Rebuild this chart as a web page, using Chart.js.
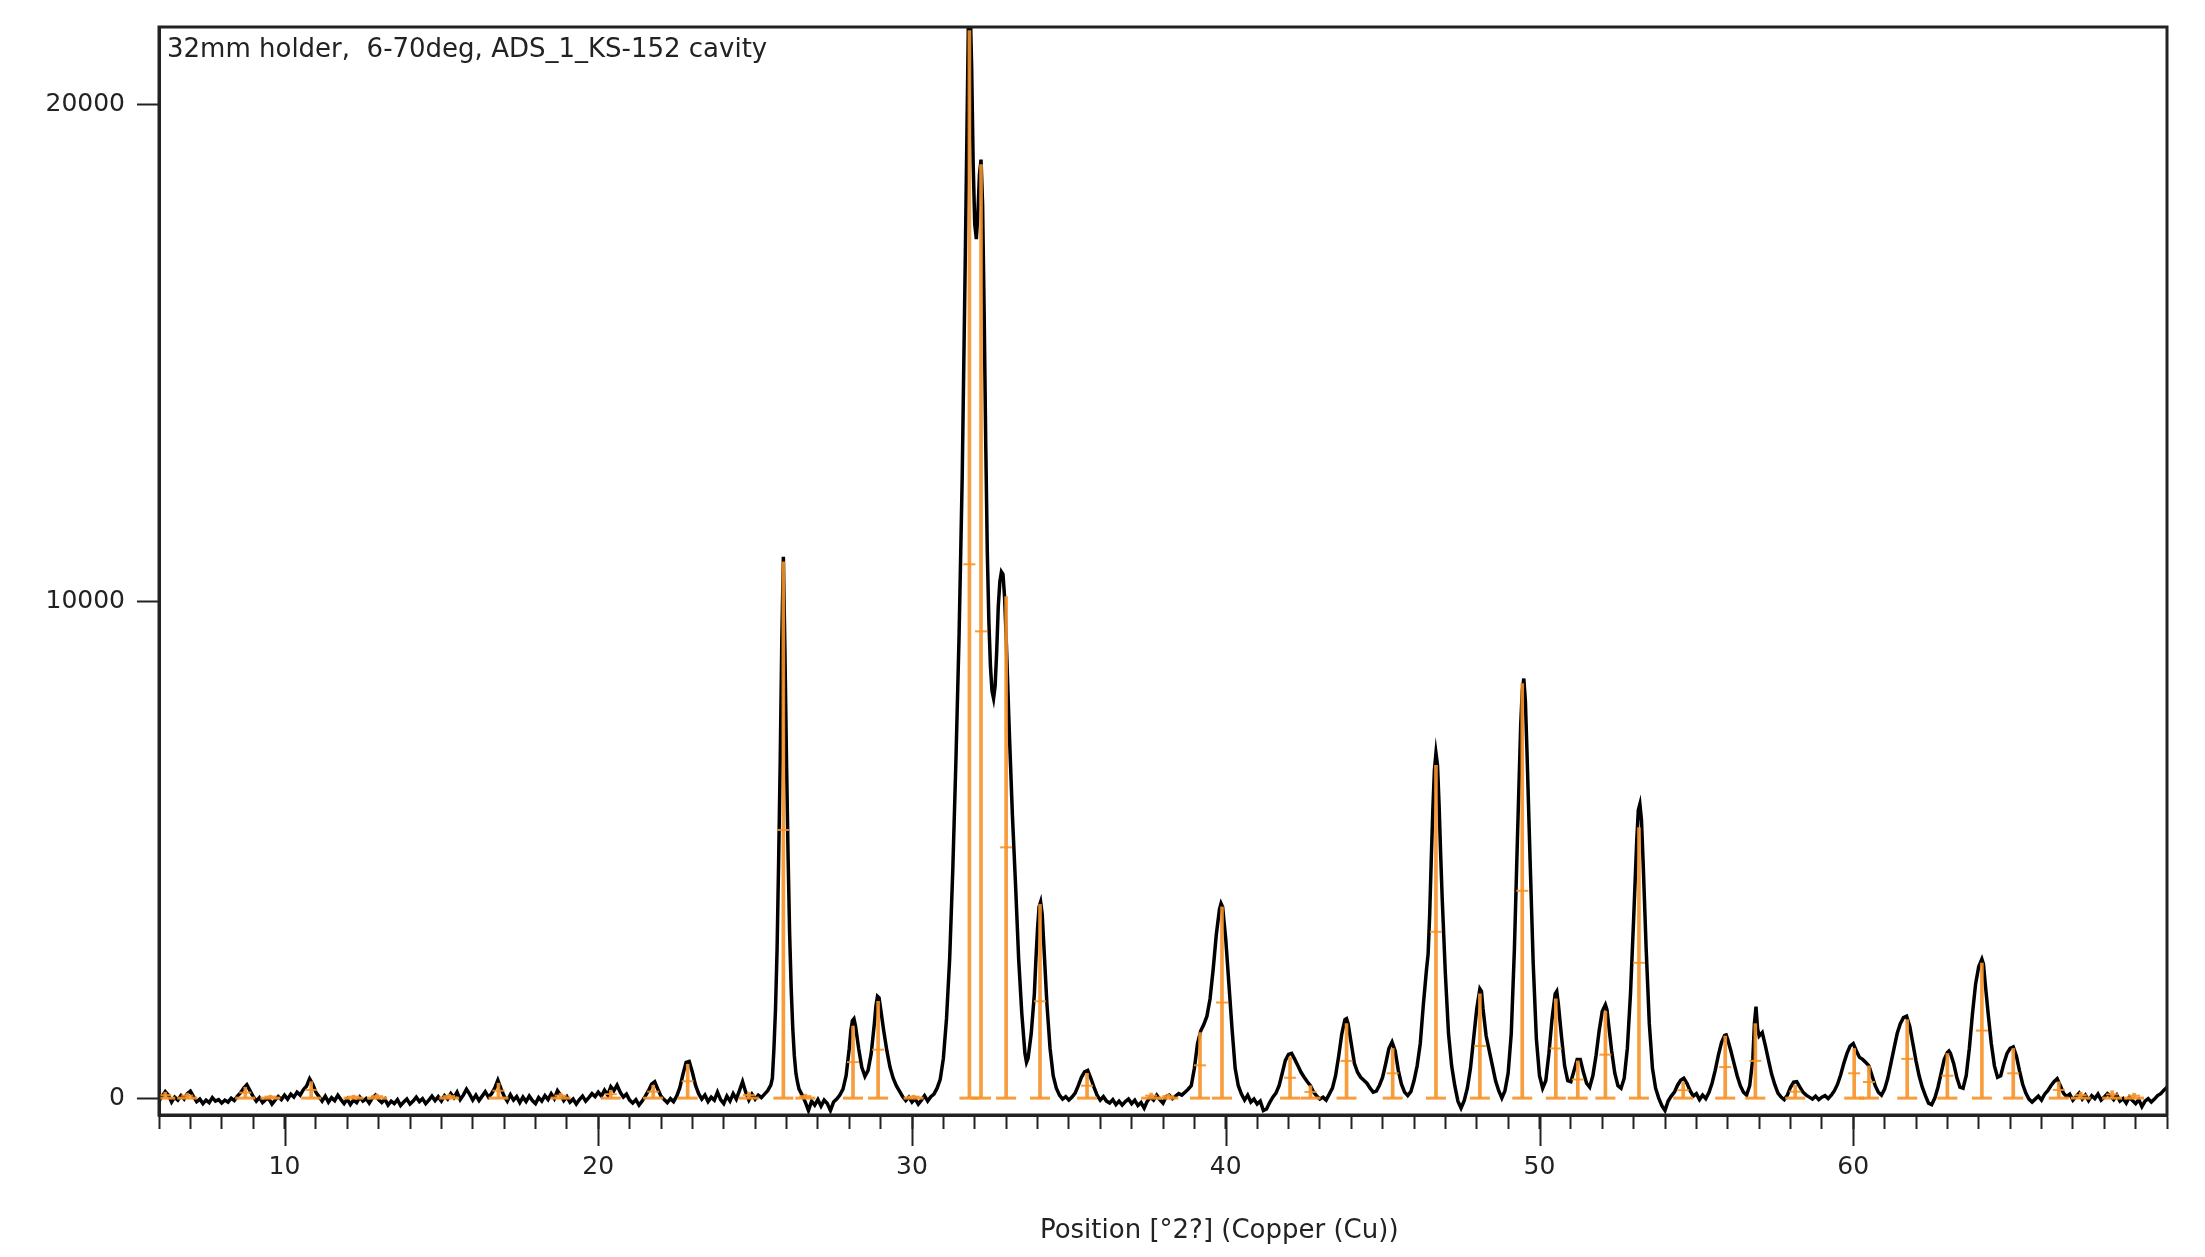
<!DOCTYPE html>
<html>
<head>
<meta charset="utf-8">
<script src="https://cdn.jsdelivr.net/npm/chart.js@4.4.1/dist/chart.umd.min.js"></script>
<style>
  body { margin: 0; background: #fff; }
  canvas { display: block; }
</style>
</head>
<body>
<canvas id="xrdChart" width="2205" height="1257"></canvas>
<script>
// measured scan: [position °2θ, counts]
const scanData = [
  [6.0,-60],[6.1,40],[6.2,130],[6.3,60],[6.4,-80],[6.5,20],[6.6,-40],[6.7,50],[6.8,-20],[6.9,90],
  [7.0,140],[7.1,30],[7.2,-70],[7.3,-20],[7.4,-110],[7.5,-40],[7.6,-90],[7.7,10],[7.8,-60],[7.9,-30],
  [8.0,-100],[8.1,-40],[8.2,-80],[8.3,0],[8.4,-50],[8.5,40],[8.6,110],[8.7,200],[8.8,270],[8.9,150],
  [9.0,30],[9.1,-60],[9.2,10],[9.3,-90],[9.4,-30],[9.5,-10],[9.6,-120],[9.7,-40],[9.8,30],[9.9,-30],
  [10.0,60],[10.1,-20],[10.2,80],[10.3,20],[10.4,120],[10.5,60],[10.6,170],[10.7,240],[10.8,390],[10.9,280],
  [11.0,120],[11.1,30],[11.2,-60],[11.3,40],[11.4,-80],[11.5,10],[11.6,-50],[11.7,60],[11.8,-30],[11.9,-110],
  [12.0,-20],[12.1,-130],[12.2,-40],[12.3,-90],[12.4,20],[12.5,-60],[12.6,-10],[12.7,-100],[12.8,0],[12.9,60],
  [13.0,-30],[13.1,-90],[13.2,-20],[13.3,-140],[13.4,-60],[13.5,-110],[13.6,-30],[13.7,-150],[13.8,-80],[13.9,-20],
  [14.0,-120],[14.1,-60],[14.2,20],[14.3,-70],[14.4,-10],[14.5,-110],[14.6,-40],[14.7,40],[14.8,-50],[14.9,30],
  [15.0,-60],[15.1,50],[15.2,-20],[15.3,90],[15.4,10],[15.5,120],[15.6,-30],[15.7,60],[15.8,180],[15.9,80],
  [16.0,-40],[16.1,60],[16.2,-50],[16.3,40],[16.4,130],[16.5,20],[16.6,90],[16.7,200],[16.8,360],[16.9,190],
  [17.0,40],[17.1,-60],[17.2,70],[17.3,-40],[17.4,30],[17.5,-90],[17.6,20],[17.7,-70],[17.8,40],[17.9,-50],
  [18.0,-110],[18.1,10],[18.2,-60],[18.3,50],[18.4,-30],[18.5,90],[18.6,-10],[18.7,150],[18.8,60],[18.9,-50],
  [19.0,30],[19.1,-80],[19.2,-20],[19.3,-120],[19.4,-30],[19.5,40],[19.6,-60],[19.7,10],[19.8,90],[19.9,30],
  [20.0,120],[20.1,40],[20.2,160],[20.3,60],[20.4,230],[20.5,150],[20.6,260],[20.7,120],[20.8,20],[20.9,80],
  [21.0,-40],[21.1,-100],[21.2,-30],[21.3,-140],[21.4,-60],[21.5,40],[21.6,150],[21.7,280],[21.8,330],[21.9,180],
  [22.0,40],[22.1,-30],[22.2,-90],[22.3,-10],[22.4,-70],[22.5,40],[22.6,210],[22.7,480],[22.8,720],[22.9,740],
  [23.0,520],[23.1,260],[23.2,90],[23.3,-20],[23.4,60],[23.5,-70],[23.6,20],[23.7,-40],[23.8,120],[23.9,-30],
  [24.0,-110],[24.1,40],[24.2,-60],[24.3,90],[24.4,-20],[24.5,150],[24.6,330],[24.7,120],[24.8,-40],[24.9,80],
  [25.0,-20],[25.1,60],[25.2,10],[25.3,80],[25.4,150],[25.5,260],[25.55,400],[25.6,1000],[25.65,1800],[25.7,3000],
  [25.75,4800],[25.8,6800],[25.85,9200],[25.9,10900],[25.95,9000],[26.0,6800],[26.05,4900],[26.1,3300],[26.15,2200],[26.2,1400],
  [26.25,850],[26.3,500],[26.35,320],[26.4,180],[26.5,60],[26.6,-80],[26.7,-250],[26.8,-60],[26.9,-140],[27.0,-30],
  [27.1,-160],[27.2,-40],[27.3,-110],[27.4,-250],[27.5,-80],[27.6,-20],[27.7,60],[27.8,180],[27.9,450],[28.0,1000],
  [28.05,1350],[28.1,1560],[28.15,1600],[28.2,1450],[28.3,1000],[28.4,620],[28.5,440],[28.6,560],[28.7,900],[28.8,1500],
  [28.85,1850],[28.9,2050],[28.95,2020],[29.0,1800],[29.1,1350],[29.2,950],[29.3,620],[29.4,400],[29.5,250],[29.6,140],
  [29.7,30],[29.8,-50],[29.9,20],[30.0,-80],[30.1,-10],[30.2,-120],[30.3,-40],[30.4,50],[30.5,-60],[30.6,30],
  [30.7,80],[30.8,200],[30.9,380],[31.0,800],[31.1,1600],[31.2,2800],[31.3,4600],[31.4,6800],[31.5,9300],[31.6,12500],
  [31.7,17000],[31.8,21800],[31.85,22100],[31.9,20800],[31.95,18800],[32.0,17600],[32.05,17300],[32.1,17800],[32.15,18600],[32.2,18900],
  [32.25,18000],[32.3,15800],[32.35,13200],[32.4,11000],[32.45,9600],[32.5,8700],[32.55,8200],[32.6,8050],[32.65,8300],[32.7,9000],
  [32.75,9900],[32.8,10400],[32.85,10600],[32.9,10550],[32.95,10100],[33.0,9300],[33.1,7400],[33.2,5700],[33.3,4300],[33.4,2800],
  [33.5,1700],[33.6,900],[33.65,720],[33.7,800],[33.8,1300],[33.9,2100],[33.95,2800],[34.0,3400],[34.05,3850],[34.1,3950],
  [34.15,3700],[34.2,3100],[34.3,1900],[34.4,1000],[34.5,450],[34.6,200],[34.7,60],[34.8,-20],[34.9,30],[35.0,-40],
  [35.1,20],[35.2,100],[35.3,250],[35.4,420],[35.5,530],[35.6,560],[35.7,400],[35.8,220],[35.9,60],[36.0,-40],
  [36.1,30],[36.2,-60],[36.3,-100],[36.4,-30],[36.5,-130],[36.6,-60],[36.7,-140],[36.8,-70],[36.9,-20],[37.0,-110],
  [37.1,-40],[37.2,-150],[37.3,-90],[37.4,-200],[37.5,-60],[37.6,20],[37.7,-40],[37.8,60],[37.9,-30],[38.0,-100],
  [38.1,30],[38.2,60],[38.3,-10],[38.4,40],[38.5,90],[38.6,60],[38.7,120],[38.8,180],[38.9,250],[39.0,600],
  [39.1,1100],[39.2,1350],[39.3,1480],[39.4,1650],[39.5,2000],[39.6,2600],[39.7,3300],[39.8,3800],[39.85,3920],[39.9,3850],
  [40.0,3200],[40.1,2300],[40.2,1400],[40.3,600],[40.4,250],[40.5,80],[40.6,-40],[40.7,60],[40.8,-80],[40.9,-20],
  [41.0,-120],[41.1,-60],[41.2,-250],[41.3,-220],[41.4,-90],[41.5,20],[41.6,100],[41.7,250],[41.8,500],[41.9,760],
  [42.0,880],[42.1,900],[42.2,780],[42.3,650],[42.4,520],[42.5,420],[42.6,330],[42.7,250],[42.8,120],[42.9,40],
  [43.0,-20],[43.1,20],[43.2,-40],[43.3,80],[43.4,200],[43.5,450],[43.6,850],[43.7,1300],[43.8,1580],[43.85,1600],
  [43.9,1500],[44.0,1100],[44.1,700],[44.2,520],[44.3,420],[44.4,360],[44.5,300],[44.6,200],[44.7,120],[44.8,140],
  [44.9,260],[45.0,420],[45.1,700],[45.2,1000],[45.3,1130],[45.4,950],[45.5,560],[45.6,280],[45.7,120],[45.8,50],
  [45.9,130],[46.0,350],[46.1,650],[46.2,1100],[46.3,1900],[46.4,2600],[46.45,2900],[46.5,3700],[46.55,4800],[46.6,5800],
  [46.65,6600],[46.7,6950],[46.75,6700],[46.8,5900],[46.85,4900],[46.9,4000],[47.0,2500],[47.1,1300],[47.2,650],[47.3,250],
  [47.4,-60],[47.5,-200],[47.6,-50],[47.7,200],[47.8,600],[47.9,1200],[48.0,1800],[48.1,2200],[48.15,2150],[48.2,1800],
  [48.3,1250],[48.4,950],[48.5,650],[48.6,350],[48.7,150],[48.8,0],[48.9,150],[49.0,500],[49.1,1300],[49.2,3000],
  [49.3,5300],[49.4,7500],[49.45,8200],[49.5,8450],[49.55,8000],[49.6,7000],[49.7,4800],[49.8,2700],[49.9,1200],[50.0,450],
  [50.1,200],[50.2,350],[50.3,900],[50.4,1600],[50.5,2100],[50.55,2150],[50.6,1900],[50.7,1250],[50.8,650],[50.9,350],
  [51.0,330],[51.1,550],[51.2,780],[51.3,780],[51.4,520],[51.5,300],[51.6,220],[51.7,450],[51.8,850],[51.9,1350],
  [52.0,1750],[52.1,1880],[52.15,1780],[52.2,1500],[52.3,950],[52.4,500],[52.5,250],[52.6,200],[52.7,400],[52.8,1000],
  [52.9,2100],[53.0,3600],[53.1,5200],[53.15,5800],[53.2,5920],[53.25,5600],[53.3,4800],[53.4,3000],[53.5,1500],[53.6,600],
  [53.7,200],[53.8,0],[53.9,-150],[54.0,-250],[54.1,-60],[54.2,40],[54.3,120],[54.4,260],[54.5,360],[54.6,400],
  [54.7,300],[54.8,150],[54.9,40],[55.0,90],[55.1,-30],[55.2,60],[55.3,-10],[55.4,110],[55.5,300],[55.6,560],
  [55.7,860],[55.8,1120],[55.9,1260],[55.95,1270],[56.0,1180],[56.1,950],[56.2,700],[56.3,450],[56.4,250],[56.5,120],
  [56.6,60],[56.7,250],[56.8,800],[56.85,1500],[56.9,1840],[56.95,1400],[57.0,1250],[57.1,1320],[57.2,1050],[57.3,760],
  [57.4,480],[57.5,270],[57.6,100],[57.7,20],[57.8,-30],[57.9,60],[58.0,220],[58.1,320],[58.2,330],[58.3,220],
  [58.4,120],[58.5,60],[58.6,20],[58.7,-20],[58.8,40],[58.9,-30],[59.0,20],[59.1,50],[59.2,-10],[59.3,60],
  [59.4,150],[59.5,280],[59.6,470],[59.7,700],[59.8,900],[59.9,1050],[60.0,1100],[60.1,950],[60.2,820],[60.3,780],
  [60.4,720],[60.5,650],[60.6,450],[60.7,250],[60.8,120],[60.9,60],[61.0,180],[61.1,400],[61.2,700],[61.3,1000],
  [61.4,1300],[61.5,1500],[61.6,1620],[61.7,1650],[61.8,1450],[61.9,1100],[62.0,750],[62.1,450],[62.2,220],[62.3,50],
  [62.4,-100],[62.5,-130],[62.6,0],[62.7,220],[62.8,500],[62.9,780],[63.0,920],[63.05,950],[63.1,900],[63.2,700],
  [63.3,420],[63.4,220],[63.5,200],[63.6,450],[63.7,1000],[63.8,1700],[63.9,2300],[64.0,2650],[64.1,2800],[64.15,2700],
  [64.2,2350],[64.3,1700],[64.4,1100],[64.5,650],[64.6,420],[64.7,450],[64.8,700],[64.9,900],[65.0,1000],[65.1,1030],
  [65.2,850],[65.3,550],[65.4,280],[65.5,100],[65.6,-20],[65.7,-80],[65.8,-20],[65.9,40],[66.0,-40],[66.1,80],
  [66.2,150],[66.3,250],[66.4,330],[66.5,390],[66.6,250],[66.7,100],[66.8,30],[66.9,80],[67.0,-40],[67.1,30],
  [67.2,100],[67.3,-20],[67.4,60],[67.5,-50],[67.6,50],[67.7,-10],[67.8,80],[67.9,-40],[68.0,20],[68.1,90],
  [68.2,40],[68.3,-30],[68.4,60],[68.5,-60],[68.6,-10],[68.7,-100],[68.8,20],[68.9,-50],[69.0,-110],[69.1,-30],
  [69.2,-170],[69.3,-60],[69.4,-10],[69.5,-80],[69.6,-20],[69.7,50],[69.8,90],[69.9,160],[70.0,220]
];

// fitted peak list (orange sticks)
const stickPos = [6.2, 6.9, 8.75, 9.55, 10.85, 12.2, 12.95, 15.25, 16.82, 18.8, 20.4, 21.75, 22.85, 24.8,
  25.9, 26.6, 28.12, 28.92, 30.05, 31.83, 32.2, 33.0, 34.08, 35.58, 37.62, 38.17, 39.18, 39.88,
  42.05, 42.7, 43.85, 45.32, 46.7, 48.1, 49.45, 50.52, 51.22, 52.1, 53.17, 54.58, 55.92, 56.88,
  58.15, 60.03, 60.5, 61.72, 63.0, 64.1, 65.1, 66.55, 67.25, 68.25, 68.95];
const stickHeight = [120, 100, 220, 60, 330, 60, 80, 80, 300, 100, 160, 260, 680, 120,
  10800, 80, 1450, 1950, 60, 21500, 18800, 10100, 3900, 500, 100, 80, 1320, 3850,
  820, 250, 1500, 1000, 6700, 2100, 8350, 2000, 750, 1750, 5450, 320, 1250, 1500,
  260, 1000, 650, 1580, 900, 2720, 1000, 330, 120, 150, 100];

const xTickLabels = [10, 20, 30, 40, 50, 60];
const yTickLabels = [0, 10000, 20000];
const plotNote = '32mm holder,  6-70deg, ADS_1_KS-152 cavity';
const xAxisTitle = 'Position [°2?] (Copper (Cu))';

const orange = 'rgba(246,146,40,0.9)';
const ink = '#222';
const labelFont = { family: 'DejaVu Sans', size: 25 };

const framePlugin = {
  id: 'xrdFrame',
  afterDraw(chart) {
    const ctx = chart.ctx;
    const area = chart.chartArea;
    const xs = chart.scales.x;
    ctx.save();
    ctx.strokeStyle = ink;
    ctx.lineWidth = 3;
    ctx.strokeRect(area.left, area.top, area.right - area.left, area.bottom - area.top);
    // longer ticks at the labelled positions
    ctx.lineWidth = 2;
    xTickLabels.forEach(v => {
      const px = Math.round(xs.getPixelForValue(v)) + 0.5;
      ctx.beginPath();
      ctx.moveTo(px, area.bottom);
      ctx.lineTo(px, area.bottom + 31);
      ctx.stroke();
    });
    ctx.fillStyle = ink;
    ctx.font = '26px "DejaVu Sans"';
    ctx.textAlign = 'left';
    ctx.textBaseline = 'alphabetic';
    ctx.fillText(plotNote, area.left + 8, area.top + 30);
    ctx.textAlign = 'center';
    ctx.textBaseline = 'middle';
    ctx.fillText(xAxisTitle, area.left + (area.right - area.left) * 0.528, area.bottom + 116);
    ctx.restore();
  }
};

const scanPoints = scanData.map(p => ({ x: p[0], y: p[1] }));
const stickBars = stickPos.map((p, i) => ({ x: p, y: [0, stickHeight[i]] }));
const stickFeet = stickPos.map(p => ({ x: p, y: 0 }));
const stickHalves = stickPos.map((p, i) => ({ x: p, y: stickHeight[i] / 2 }));

new Chart(document.getElementById('xrdChart'), {
  type: 'line',
  data: {
    datasets: [
      {
        type: 'bar',
        data: stickBars,
        backgroundColor: orange,
        borderWidth: 0,
        barThickness: 3,
        grouped: false,
        order: 0
      },
      {
        type: 'line',
        data: stickFeet,
        showLine: false,
        pointStyle: 'line',
        pointRadius: 10,
        pointBorderWidth: 3,
        pointBorderColor: orange,
        order: 0
      },
      {
        type: 'line',
        data: stickHalves,
        showLine: false,
        pointStyle: 'line',
        pointRadius: 6,
        pointBorderWidth: 2,
        pointBorderColor: orange,
        order: 0
      },
      {
        type: 'line',
        data: scanPoints,
        borderColor: '#000',
        borderWidth: 3.5,
        pointRadius: 0,
        tension: 0,
        order: 1
      }
    ]
  },
  options: {
    responsive: false,
    devicePixelRatio: 1,
    animation: false,
    layout: { padding: { top: 27, right: 38, left: 0, bottom: 0 } },
    plugins: { legend: { display: false }, tooltip: { enabled: false } },
    scales: {
      x: {
        type: 'linear',
        min: 6,
        max: 70,
        offset: false,
        ticks: {
          stepSize: 1,
          autoSkip: false,
          maxRotation: 0,
          padding: 23,
          color: ink,
          font: labelFont,
          callback: v => xTickLabels.includes(v) ? String(v) : ''
        },
        grid: {
          offset: false,
          drawOnChartArea: false,
          drawTicks: true,
          tickLength: 14,
          tickWidth: 2,
          tickColor: ink
        },
        border: { display: true, color: ink, width: 3 },
        afterFit: s => { s.height = 142; }
      },
      y: {
        type: 'linear',
        min: -340,
        max: 21570,
        afterBuildTicks: s => { s.ticks = yTickLabels.map(v => ({ value: v })); },
        ticks: {
          padding: 12,
          color: ink,
          font: labelFont,
          callback: v => String(v)
        },
        grid: {
          drawOnChartArea: false,
          drawTicks: true,
          tickLength: 22,
          tickWidth: 2,
          tickColor: ink
        },
        border: { display: true, color: ink, width: 3 },
        afterFit: s => { s.width = 159; }
      }
    }
  },
  plugins: [framePlugin]
});
</script>
</body>
</html>
